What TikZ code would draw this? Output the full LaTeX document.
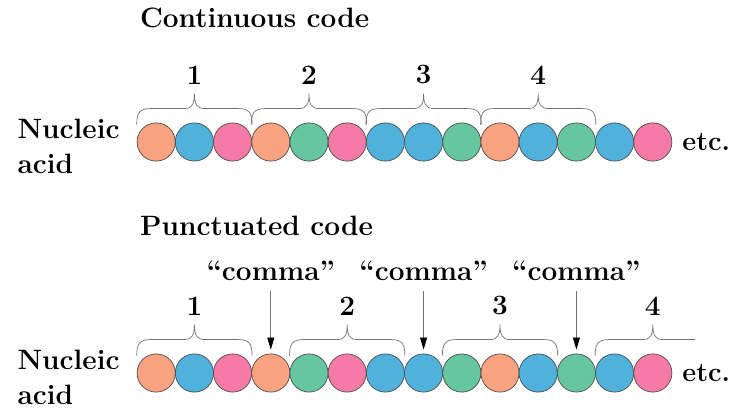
\documentclass[tikz,border=0pt]{standalone}
\usepackage{fontspec}
\usetikzlibrary{arrows.meta,positioning,calc}

\definecolor{baseorange}{HTML}{F9A381}
\definecolor{baseblue}{HTML}{4FB1DC}
\definecolor{basepink}{HTML}{F57BA6}
\definecolor{basegreen}{HTML}{66C6A0}

% curly brace over beads #1..#2, label #3 named #4
\newcommand{\codon}[4]{%
  \draw[codonbrace] let \p1=(#1.west), \p2=(#2.east), \p3=(#1.north), \n1={0.5*(\x1+\x2)} in
    (\x1,\y3-2pt) .. controls (\x1,\y3+10pt) and (\x1+3pt,\y3+14pt) .. (\x1+14pt,\y3+14pt)
    -- (\n1-10pt,\y3+14pt) .. controls (\n1-2pt,\y3+14pt) and (\n1,\y3+19pt) .. (\n1,\y3+29pt)
    .. controls (\n1,\y3+19pt) and (\n1+2pt,\y3+14pt) .. (\n1+10pt,\y3+14pt)
    -- (\x2-14pt,\y3+14pt) .. controls (\x2-3pt,\y3+14pt) and (\x2,\y3+10pt) .. (\x2,\y3-2pt)
    node[digit, anchor=south] (#4) at (\n1,\y3+38pt) {#3};}

\begin{document}
\begin{tikzpicture}[x=1pt,y=-1pt,
    bead/.style={circle, draw=black!70, line width=0.7pt, minimum size=38.2pt, inner sep=0pt},
    heading/.style={font=\fontsize{28}{35}\selectfont\bfseries, inner sep=0pt, anchor=base west},
    side/.style={font=\fontsize{28}{35}\selectfont\bfseries, inner sep=0pt, align=left},
    digit/.style={font=\fontsize{28}{35}\selectfont\bfseries, inner sep=0pt},
    codonbrace/.style={draw=black!55, line width=0.7pt},
    pointer/.style={draw=black!55, line width=0.7pt, -{Triangle[color=black,length=12pt,width=7pt]}}]
  \useasboundingbox (0,0) rectangle (732,410);

  % Beads
  \foreach \c [count=\i] in {baseorange,baseblue,basepink,baseorange,basegreen,basepink,baseblue,
                             baseblue,basegreen,baseorange,baseblue,basegreen,baseblue,basepink} {
    \node[bead, fill=\c] (t\i) at ({118+38.2*\i},142) {};
    \node[bead, fill=\c] (b\i) at ({118+38.2*\i},373) {};
  }

  % Headings
  \node[heading] (cont) at (140,27) {Continuous code};
  \node[heading] (punc) at (140,235) {Punctuated code};

  % Labels
  \node[side, left=17pt of t1, yshift=-4pt] (na1) {Nucleic\\acid};
  \node[side, left=17pt of b1, yshift=-4pt] (na2) {Nucleic\\acid};
  \node[side, font=\fontsize{27}{32}\selectfont\bfseries, right=10pt of t14] (etc1) {etc.};
  \node[side, font=\fontsize{27}{32}\selectfont\bfseries, right=10pt of b14] (etc2) {etc.};

  % Continuous codons
  \codon{t1}{t3}{1}{n1}
  \codon{t4}{t6}{2}{n2}
  \codon{t7}{t9}{3}{n3}
  \codon{t10}{t12}{4}{n4}

  % Punctuated codons
  \codon{b1}{b3}{1}{n5}
  \codon{b5}{b7}{2}{n6}
  \codon{b9}{b11}{3}{n7}
  \draw[codonbrace] let \p1=(b13.west), \p2=(b14.center), \p3=(b13.north) in
    (\x1,\y3-2pt) .. controls (\x1,\y3+10pt) and (\x1+3pt,\y3+14pt) .. (\x1+14pt,\y3+14pt)
    -- (\x2-10pt,\y3+14pt) .. controls (\x2-2pt,\y3+14pt) and (\x2,\y3+19pt) .. (\x2,\y3+29pt)
    .. controls (\x2,\y3+19pt) and (\x2+2pt,\y3+14pt) .. (\x2+10pt,\y3+14pt)
    -- (\x2+42pt,\y3+14pt)
    node[digit, anchor=south] (n8) at (\x2,\y3+38pt) {4};

  % Commas
  \node[side, above=73pt of b4] (comma1) {“comma”};
  \node[side, above=73pt of b8] (comma2) {“comma”};
  \node[side, above=73pt of b12] (comma3) {“comma”};
  \draw[pointer, shorten <=10pt, shorten >=4pt] (comma1) -- (b4);
  \draw[pointer, shorten <=10pt, shorten >=4pt] (comma2) -- (b8);
  \draw[pointer, shorten <=10pt, shorten >=4pt] (comma3) -- (b12);
\end{tikzpicture}
\end{document}
